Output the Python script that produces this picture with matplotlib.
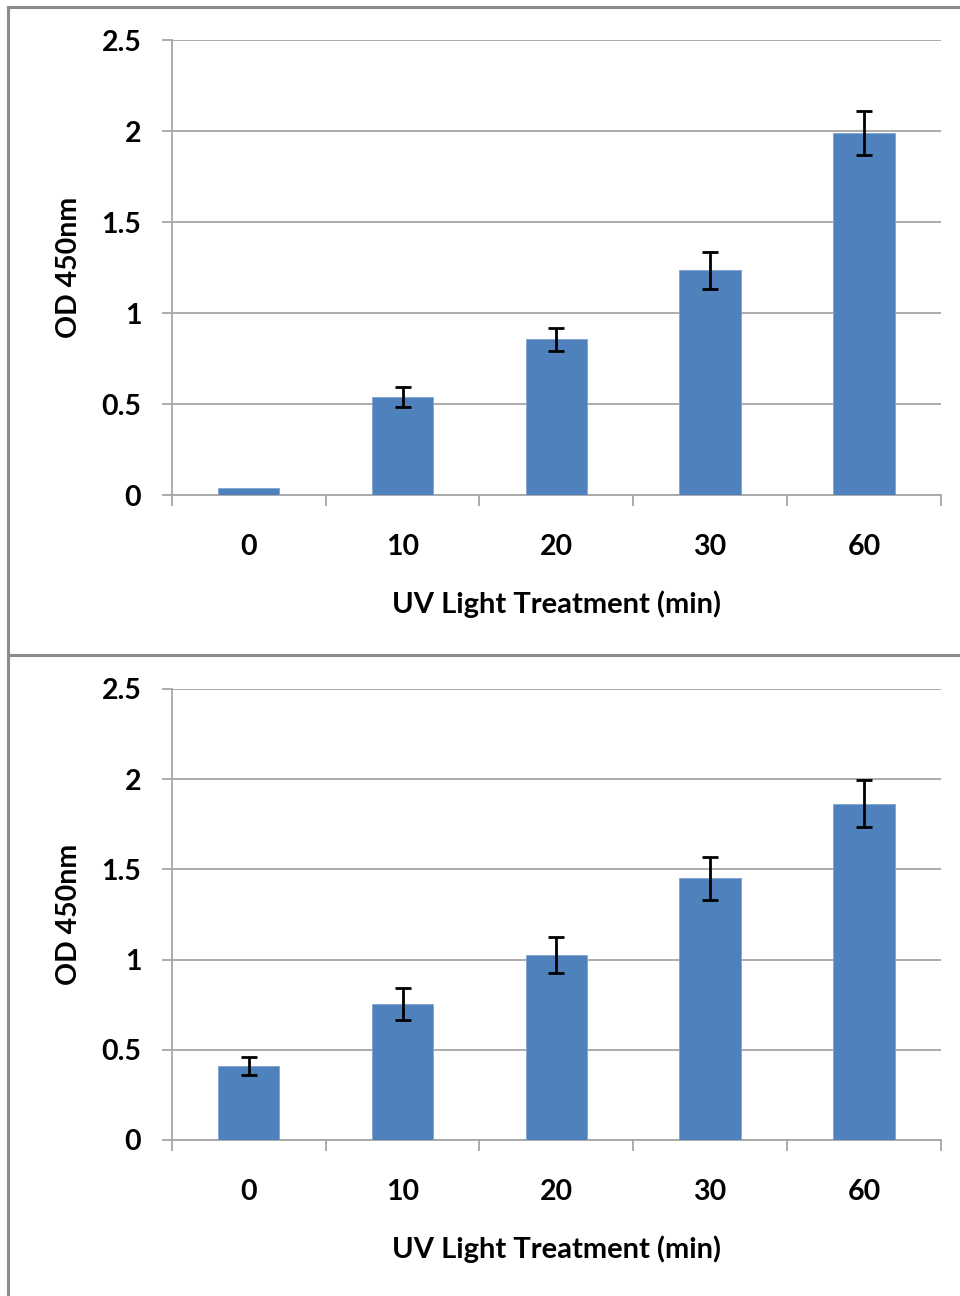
import numpy as np
import matplotlib
matplotlib.use("Agg")
import matplotlib.pyplot as plt
from matplotlib.lines import Line2D

# Data
categories = ["0", "10", "20", "30", "60"]
top_values = [0.04, 0.54, 0.855, 1.235, 1.99]
top_errors = [0.0, 0.055, 0.063, 0.10, 0.12]
bottom_values = [0.41, 0.755, 1.025, 1.45, 1.865]
bottom_errors = [0.05, 0.089, 0.10, 0.12, 0.13]
y_ticks = [0, 0.5, 1, 1.5, 2, 2.5]
y_tick_labels = ["0", "0.5", "1", "1.5", "2", "2.5"]

bar_color = "#4F81BD"
grid_color = "#A6A6A6"
font = ["Lato", "DejaVu Sans"]

plt.rcParams["font.family"] = font

fig = plt.figure(figsize=(9.6, 12.96), dpi=100)


def draw_panel(ax, values, errors):
    x = np.arange(len(categories))
    ax.bar(x, values, width=0.4, color=bar_color, edgecolor="#7FA3D0",
           linewidth=0.6, zorder=3)
    # only bars with a visible error get error bars
    idx = [i for i, e in enumerate(errors) if e > 0]
    ax.errorbar(x[idx], np.array(values)[idx], yerr=np.array(errors)[idx],
                fmt="none", ecolor="black", elinewidth=2, capsize=6,
                capthick=2, zorder=4)

    ax.set_xlim(-0.5, len(categories) - 0.5)
    ax.set_ylim(0, 2.5)
    ax.set_yticks(y_ticks)
    ax.set_yticklabels(y_tick_labels)
    ax.set_xticks(x)
    ax.set_xticklabels(categories)
    ax.set_xticks(np.arange(len(categories) + 1) - 0.5, minor=True)

    ax.yaxis.grid(True, color=grid_color, linewidth=1.3, zorder=0)
    ax.set_axisbelow(True)
    for side in ["top", "right"]:
        ax.spines[side].set_visible(False)
    for side in ["left", "bottom"]:
        ax.spines[side].set_color(grid_color)
        ax.spines[side].set_linewidth(1.3)

    ax.tick_params(axis="y", direction="out", length=7, width=1.3,
                   color=grid_color, pad=15)
    ax.tick_params(axis="x", which="major", length=0, pad=28)
    ax.tick_params(axis="x", which="minor", direction="out", length=8,
                   width=1.3, color=grid_color)
    for lab in ax.get_xticklabels() + ax.get_yticklabels():
        lab.set_fontsize(20.5)
        lab.set_fontweight("bold")
        lab.set_color("black")

    ax.set_xlabel("UV Light Treatment (min)", fontsize=21, fontweight="bold",
                  labelpad=22)
    ax.set_ylabel("OD 450nm", fontsize=20.5, fontweight="bold", labelpad=14)


ax_top = fig.add_axes([0.179, 0.618, 0.801, 0.351])
draw_panel(ax_top, top_values, top_errors)

ax_bot = fig.add_axes([0.179, 0.1204, 0.801, 0.348])
draw_panel(ax_bot, bottom_values, bottom_errors)

# panel frames
frame_color = "#8C8C8C"
W, H = 960.0, 1296.0
fig.add_artist(Line2D([8 / W, 1], [1 - 7 / H, 1 - 7 / H], color=frame_color,
                      linewidth=2.2, transform=fig.transFigure))
fig.add_artist(Line2D([8 / W, 8 / W], [0, 1 - 7 / H], color=frame_color,
                      linewidth=2.2, transform=fig.transFigure))
fig.add_artist(Line2D([8 / W, 1], [1 - 655 / H, 1 - 655 / H],
                      color=frame_color, linewidth=2.2,
                      transform=fig.transFigure))

fig.savefig("out.png", dpi=100)
